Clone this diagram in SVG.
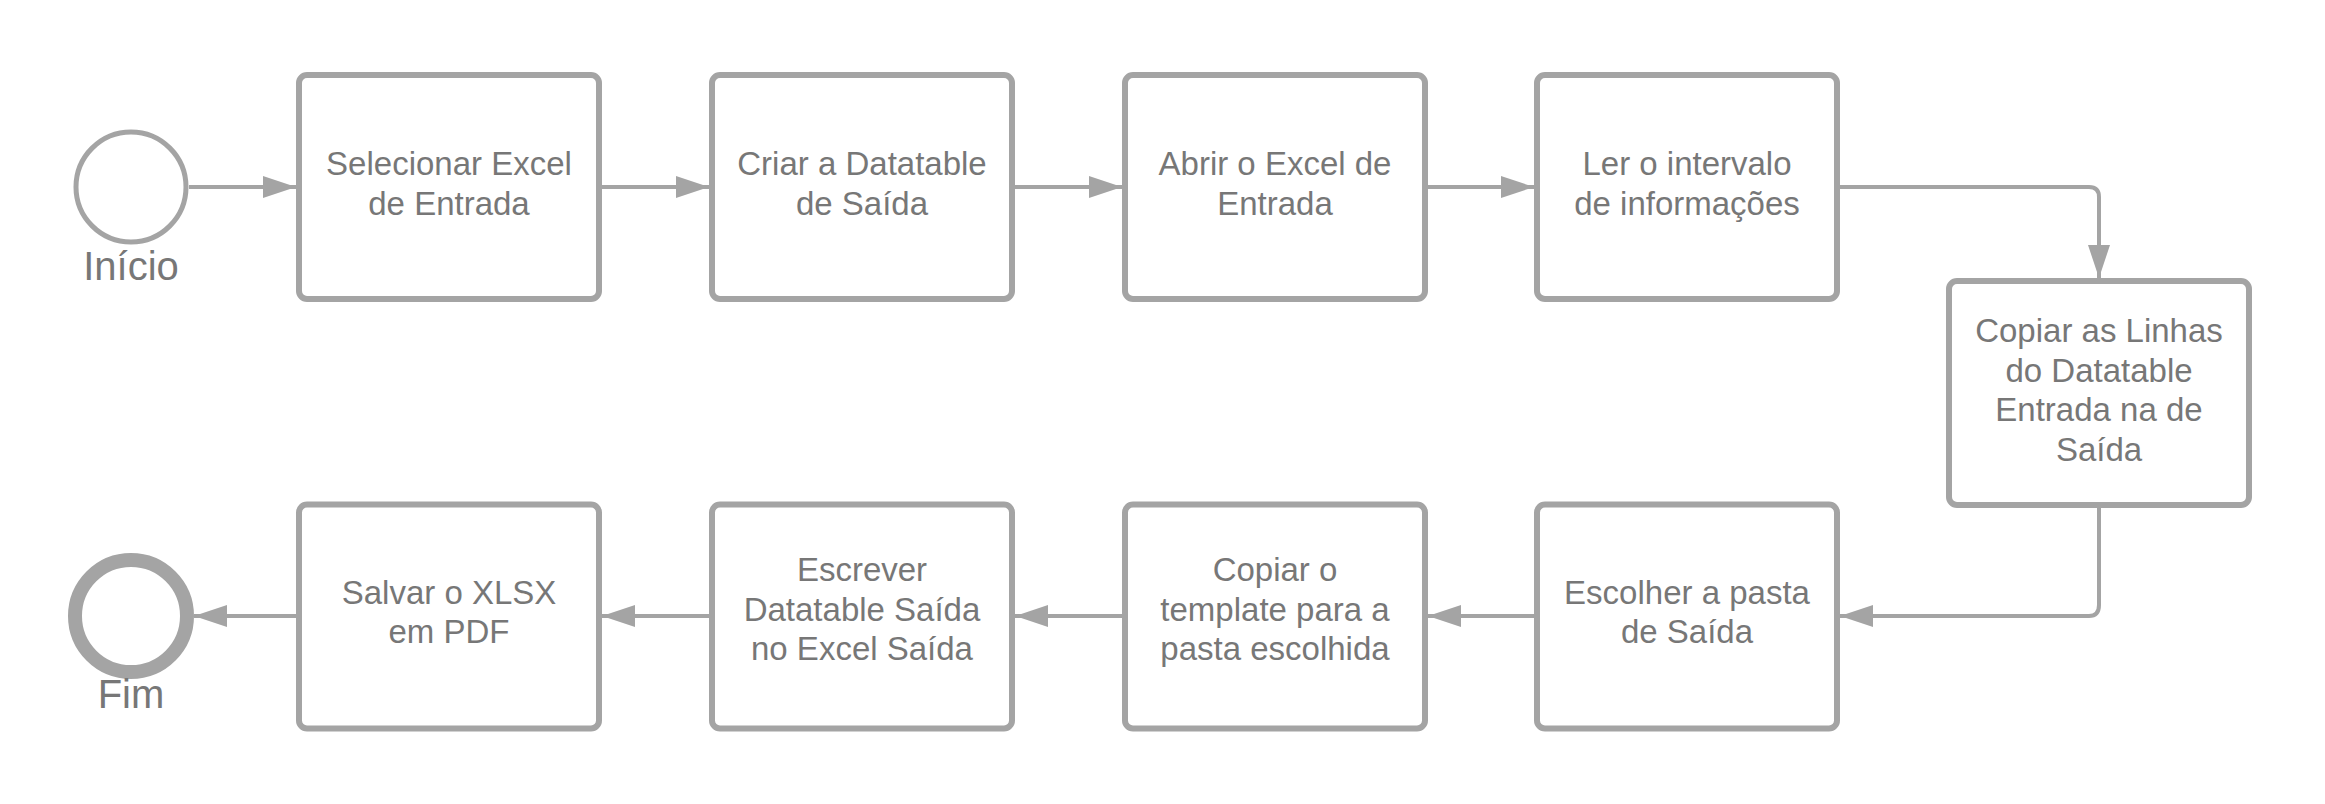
<svg xmlns="http://www.w3.org/2000/svg" width="2325" height="804" viewBox="0 0 2325 804">
<style>
.box{fill:#fff;stroke:#a4a4a4;stroke-width:6}
.lbl{font-family:"Liberation Sans",Arial,sans-serif;font-size:33px;fill:#777;text-anchor:middle}
.ev{font-family:"Liberation Sans",Arial,sans-serif;font-size:40px;fill:#777;text-anchor:middle}
.con{fill:none;stroke:#a4a4a4;stroke-width:4;marker-end:url(#ah)}
</style>
<defs>
<marker id="ah" markerUnits="userSpaceOnUse" markerWidth="34" markerHeight="24" refX="33" refY="11" orient="auto">
<path d="M0,0 L33,11 L0,22 Z" fill="#a4a4a4"/>
</marker>
</defs>
<rect width="2325" height="804" fill="#fff"/>
<g id="connectors">
<path class="con" d="M189,187 H296"/>
<path class="con" d="M602,187 H709"/>
<path class="con" d="M1015,187 H1122"/>
<path class="con" d="M1428,187 H1534"/>
<path class="con" d="M1840,187 H2089 Q2099,187 2099,197 V278"/>
<path class="con" d="M2099,508 V605 Q2099,616 2089,616 H1840"/>
<path class="con" d="M1534,616 H1428"/>
<path class="con" d="M1122,616 H1015"/>
<path class="con" d="M709,616 H602"/>
<path class="con" d="M296,616 H194"/>
</g>
<g id="start">
<circle cx="131" cy="187" r="55" fill="#fff" stroke="#a4a4a4" stroke-width="5"/>
<text class="ev" x="131" y="280">Início</text>
</g>
<g id="n1">
<rect class="box" x="299" y="75" width="300" height="224" rx="8"/>
<text class="lbl" x="449" y="175">Selecionar Excel</text>
<text class="lbl" x="449" y="214.5">de Entrada</text>
</g>
<g id="n2">
<rect class="box" x="712" y="75" width="300" height="224" rx="8"/>
<text class="lbl" x="862" y="175">Criar a Datatable</text>
<text class="lbl" x="862" y="214.5">de Saída</text>
</g>
<g id="n3">
<rect class="box" x="1125" y="75" width="300" height="224" rx="8"/>
<text class="lbl" x="1275" y="175">Abrir o Excel de</text>
<text class="lbl" x="1275" y="214.5">Entrada</text>
</g>
<g id="n4">
<rect class="box" x="1537" y="75" width="300" height="224" rx="8"/>
<text class="lbl" x="1687" y="175">Ler o intervalo</text>
<text class="lbl" x="1687" y="214.5">de informações</text>
</g>
<g id="n5">
<rect class="box" x="1949" y="281" width="300" height="224" rx="8"/>
<text class="lbl" x="2099" y="342">Copiar as Linhas</text>
<text class="lbl" x="2099" y="381.5">do Datatable</text>
<text class="lbl" x="2099" y="421">Entrada na de</text>
<text class="lbl" x="2099" y="460.5">Saída</text>
</g>
<g id="n6">
<rect class="box" x="1537" y="504.5" width="300" height="224" rx="8"/>
<text class="lbl" x="1687" y="603.5">Escolher a pasta</text>
<text class="lbl" x="1687" y="643">de Saída</text>
</g>
<g id="n7">
<rect class="box" x="1125" y="504.5" width="300" height="224" rx="8"/>
<text class="lbl" x="1275" y="581">Copiar o</text>
<text class="lbl" x="1275" y="620.5">template para a</text>
<text class="lbl" x="1275" y="660">pasta escolhida</text>
</g>
<g id="n8">
<rect class="box" x="712" y="504.5" width="300" height="224" rx="8"/>
<text class="lbl" x="862" y="581">Escrever</text>
<text class="lbl" x="862" y="620.5">Datatable Saída</text>
<text class="lbl" x="862" y="660">no Excel Saída</text>
</g>
<g id="n9">
<rect class="box" x="299" y="504.5" width="300" height="224" rx="8"/>
<text class="lbl" x="449" y="603.5">Salvar o XLSX</text>
<text class="lbl" x="449" y="643">em PDF</text>
</g>
<g id="end">
<circle cx="131" cy="616" r="56" fill="#fff" stroke="#a4a4a4" stroke-width="14"/>
<text class="ev" x="131" y="708">Fim</text>
</g>
</svg>
